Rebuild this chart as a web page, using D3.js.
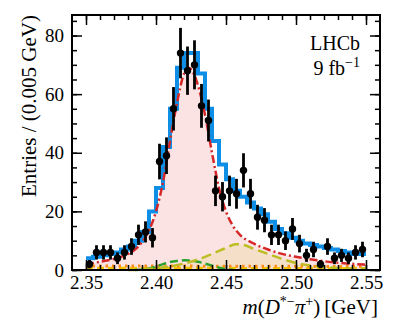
<!DOCTYPE html>
<html>
<head>
<meta charset="utf-8">
<script src="https://cdn.jsdelivr.net/npm/d3@7/dist/d3.min.js"></script>
<style>
body { margin: 0; background: #fff; }
text { font-family: "Liberation Serif", serif; fill: #000; }
</style>
</head>
<body>
<svg id="chart" width="399" height="322"></svg>
<script>
// Bin centres (0.005 GeV bins)
var binCenters = [2.3525, 2.3575, 2.3625, 2.3675, 2.3725, 2.3775, 2.3825, 2.3875, 2.3925, 2.3975,
    2.4025, 2.4075, 2.4125, 2.4175, 2.4225, 2.4275, 2.4325, 2.4375, 2.4425, 2.4475,
    2.4525, 2.4575, 2.4625, 2.4675, 2.4725, 2.4775, 2.4825, 2.4875, 2.4925, 2.4975,
    2.5025, 2.5075, 2.5125, 2.5175, 2.5225, 2.5275, 2.5325, 2.5375, 2.5425, 2.5475];

// Data entries per bin
var counts = [2, 6, 6, 6, 4, 6, 8, 12, 13, 11,
    37, 39, 55, 74, 68, 70, 56, 51, 27, 25,
    27, 26, 34, 26, 18, 17, 12, 12, 10, 14,
    9, 5, 7, 2, 8, 4, 5, 4, 6, 7];

// Total fit, per bin (blue histogram)
var totalFit = [4, 4.5, 5, 5.5, 6, 7, 8, 10, 13, 20,
    28, 42, 55, 69, 74, 74, 67, 55, 44, 36,
    31, 27, 25, 23, 21, 19, 16.5, 14, 12.5, 11,
    10, 9, 8.5, 8, 7.5, 7, 6.5, 6, 5.5, 5.5];

// Signal component (red dash-dot)
var sigMass = [2.350, 2.360, 2.370, 2.380, 2.385, 2.390, 2.395, 2.400, 2.405, 2.410,
    2.415, 2.420, 2.4235, 2.427, 2.430, 2.435, 2.440, 2.445, 2.450, 2.455,
    2.460, 2.470, 2.480, 2.490, 2.500, 2.510, 2.520, 2.530, 2.540, 2.550];
var sigVals = [2.0, 2.8, 3.8, 5.5, 7, 9.5, 13.5, 20, 30, 44,
    57, 67, 69, 67, 63, 53, 40, 28, 20, 15,
    12, 9, 7, 5.5, 4.5, 3.7, 3.0, 2.5, 2.1, 1.8];

// Broad bump component (olive dashed)
var bumpMass = [2.380, 2.390, 2.400, 2.410, 2.420, 2.430, 2.440, 2.450, 2.457, 2.462,
    2.470, 2.480, 2.490, 2.500, 2.510, 2.520, 2.530, 2.540, 2.550];
var bumpVals = [0, 0.2, 0.6, 1.2, 2.2, 3.6, 5.5, 7.5, 8.8, 8.6,
    7.2, 5.5, 3.8, 2.4, 1.5, 1.0, 0.7, 0.5, 0.4];

// Small component (green dashed)
var greenMass = [2.385, 2.395, 2.400, 2.405, 2.410, 2.415, 2.420, 2.425, 2.430, 2.435,
    2.440, 2.445, 2.450, 2.455];
var greenVals = [0, 0.5, 1.2, 2.0, 2.7, 3.1, 3.3, 3.2, 2.8, 2.2,
    1.5, 0.8, 0.3, 0.1];

// Flat components (orange dotted, yellow dashed)
var flatMass = [2.350, 2.400, 2.450, 2.500, 2.550];
var orangeVals = [1.4, 1.35, 1.3, 1.25, 1.2];
var yellowVals = [0.7, 0.7, 0.65, 0.6, 0.6];

var xTicks = [2.35, 2.40, 2.45, 2.50, 2.55];
var yTicks = [0, 20, 40, 60, 80];

window.addEventListener("load", function () {
    drawChart();
});

function drawChart() {
    var svg = d3.select("#chart"),
        margin = { top: 15, right: 19, bottom: 52, left: 72 },
        width = +svg.attr("width") - margin.left - margin.right,
        height = +svg.attr("height") - margin.top - margin.bottom;

    var x = d3.scaleLinear().domain([2.34, 2.56]).range([0, width]);
    var y = d3.scaleLinear().domain([0, 87]).range([height, 0]);

    var g = svg.append("g")
        .attr("transform", "translate(" + margin.left + "," + margin.top + ")");

    var pts = function (ms, vs) { return ms.map(function (m, i) { return [m, vs[i]]; }); };

    var line = d3.line()
        .x(function (d) { return x(d[0]); })
        .y(function (d) { return y(d[1]); })
        .curve(d3.curveMonotoneX);
    var area = d3.area()
        .x(function (d) { return x(d[0]); })
        .y0(y(0))
        .y1(function (d) { return y(d[1]); })
        .curve(d3.curveMonotoneX);

    // Filled components
    g.append("path").attr("d", area(pts(sigMass, sigVals))).attr("fill", "#fbe3e3");
    g.append("path").attr("d", area(pts(bumpMass, bumpVals))).attr("fill", "#f5dfc8");

    // Total fit as a step histogram
    var half = 0.0025;
    var stepPts = binCenters.map(function (c, i) { return [c - half, totalFit[i]]; });
    stepPts.push([binCenters[binCenters.length - 1] + half, totalFit[totalFit.length - 1]]);
    g.append("path")
        .attr("d", d3.line().x(function (d) { return x(d[0]); }).y(function (d) { return y(d[1]); })
            .curve(d3.curveStepAfter)(stepPts))
        .attr("fill", "none")
        .attr("stroke", "#0f8ee6")
        .attr("stroke-width", 4);

    // Component lines
    g.append("path").attr("d", line(pts(flatMass, yellowVals)))
        .attr("fill", "none").attr("stroke", "#f2c500").attr("stroke-width", 2.5)
        .attr("stroke-dasharray", "7,4");
    g.append("path").attr("d", line(pts(flatMass, orangeVals)))
        .attr("fill", "none").attr("stroke", "#ff8c1a").attr("stroke-width", 3)
        .attr("stroke-dasharray", "2.5,4");
    g.append("path").attr("d", line(pts(greenMass, greenVals)))
        .attr("fill", "none").attr("stroke", "#2ca02c").attr("stroke-width", 2.5)
        .attr("stroke-dasharray", "8,4");
    g.append("path").attr("d", line(pts(bumpMass, bumpVals)))
        .attr("fill", "none").attr("stroke", "#bcbd22").attr("stroke-width", 2.5)
        .attr("stroke-dasharray", "10,5");
    g.append("path").attr("d", line(pts(sigMass, sigVals)))
        .attr("fill", "none").attr("stroke", "#d62728").attr("stroke-width", 2.5)
        .attr("stroke-dasharray", "8,3,2,3");

    // Data points with Poisson errors
    var data = binCenters.map(function (c, i) { return { m: c, n: counts[i], e: Math.sqrt(counts[i]) }; });
    g.selectAll(".err")
        .data(data)
        .enter().append("line")
        .attr("class", "err")
        .attr("x1", function (d) { return x(d.m); })
        .attr("x2", function (d) { return x(d.m); })
        .attr("y1", function (d) { return y(d.n - d.e); })
        .attr("y2", function (d) { return y(d.n + d.e); })
        .attr("stroke", "#000")
        .attr("stroke-width", 2.8);
    g.selectAll(".pt")
        .data(data)
        .enter().append("circle")
        .attr("class", "pt")
        .attr("cx", function (d) { return x(d.m); })
        .attr("cy", function (d) { return y(d.n); })
        .attr("r", 3.7)
        .attr("fill", "#000");

    // Axes: ticks inside on all four sides
    var xMinor = d3.range(2.35, 2.555, 0.01);
    var yMinor = d3.range(0, 87, 5);

    g.append("g").attr("class", "axis").attr("transform", "translate(0," + height + ")")
        .call(d3.axisBottom(x).tickValues(xTicks).tickSize(-10).tickPadding(6).tickFormat(d3.format(".2f")));
    g.append("g").attr("class", "axis minor").attr("transform", "translate(0," + height + ")")
        .call(d3.axisBottom(x).tickValues(xMinor).tickSize(-5).tickFormat(""));
    g.append("g").attr("class", "axis")
        .call(d3.axisTop(x).tickValues(xTicks).tickSize(-10).tickFormat(""));
    g.append("g").attr("class", "axis minor")
        .call(d3.axisTop(x).tickValues(xMinor).tickSize(-5).tickFormat(""));

    g.append("g").attr("class", "axis")
        .call(d3.axisLeft(y).tickValues(yTicks).tickSize(-10).tickPadding(8));
    g.append("g").attr("class", "axis minor")
        .call(d3.axisLeft(y).tickValues(yMinor).tickSize(-5).tickFormat(""));
    g.append("g").attr("class", "axis").attr("transform", "translate(" + width + ",0)")
        .call(d3.axisRight(y).tickValues(yTicks).tickSize(-10).tickFormat(""));
    g.append("g").attr("class", "axis minor").attr("transform", "translate(" + width + ",0)")
        .call(d3.axisRight(y).tickValues(yMinor).tickSize(-5).tickFormat(""));

    g.selectAll(".axis .domain").remove();
    g.selectAll(".axis line").attr("stroke", "#000").attr("stroke-width", 1.5);
    g.selectAll(".axis text").style("font-family", "Liberation Serif, serif").style("font-size", "19px");

    // Frame
    g.append("rect")
        .attr("width", width).attr("height", height)
        .attr("fill", "none").attr("stroke", "#000").attr("stroke-width", 2);

    // Labels
    svg.append("text")
        .attr("transform", "translate(36," + margin.top + ") rotate(-90)")
        .attr("text-anchor", "end")
        .style("font-size", "21px")
        .text("Entries / (0.005 GeV)");

    var xl = svg.append("text")
        .attr("x", margin.left + width - 2)
        .attr("y", 314)
        .attr("text-anchor", "end")
        .style("font-size", "21px");
    xl.append("tspan").style("font-style", "italic").text("m");
    xl.append("tspan").text("(");
    xl.append("tspan").style("font-style", "italic").text("D");
    xl.append("tspan").attr("dy", -8).style("font-size", "14px").text("*\u2212");
    xl.append("tspan").attr("dy", 8).style("font-style", "italic").text("\u03c0");
    xl.append("tspan").attr("dy", -8).style("font-size", "14px").text("+");
    xl.append("tspan").attr("dy", 8).text(")\u2009[GeV]");

    svg.append("text")
        .attr("x", 360).attr("y", 50)
        .attr("text-anchor", "end")
        .style("font-size", "20px")
        .text("LHCb");
    var lumi = svg.append("text")
        .attr("x", 360).attr("y", 75)
        .attr("text-anchor", "end")
        .style("font-size", "20px");
    lumi.append("tspan").text("9 fb");
    lumi.append("tspan").attr("dy", -8).style("font-size", "14px").text("\u22121");
}
</script>
</body>
</html>
